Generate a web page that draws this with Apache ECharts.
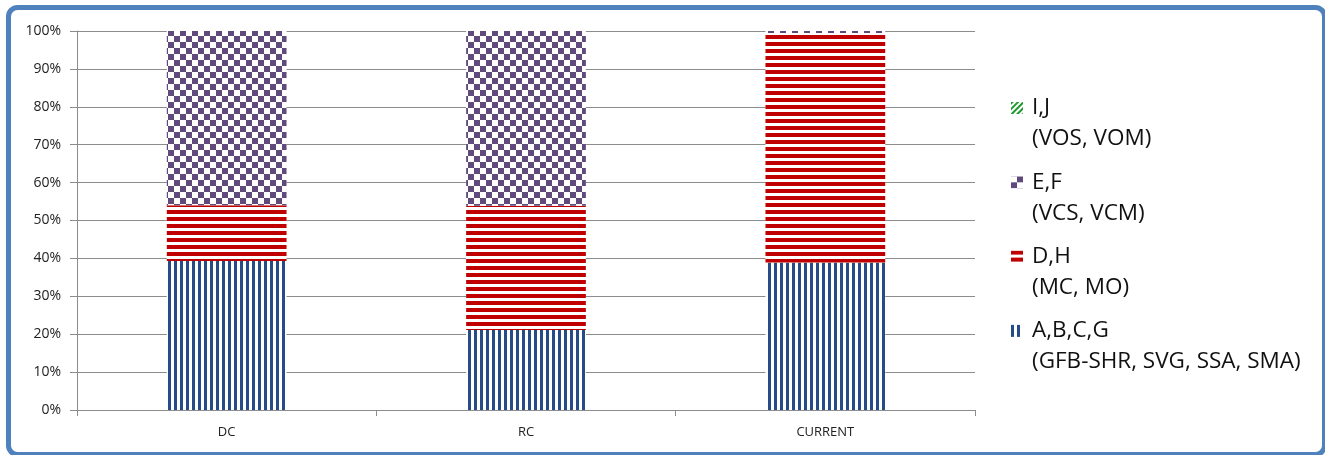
<!DOCTYPE html>
<html>
<head>
<meta charset="utf-8">
<title>Stacked share by category</title>
<script src="https://cdn.jsdelivr.net/npm/echarts@6/dist/echarts.min.js"></script>
<style>
  html, body { margin: 0; padding: 0; background: #ffffff; }
  #chart { width: 1325px; height: 455px; }
</style>
</head>
<body>
<div id="chart"></div>
<script>
// Categories along the x axis
const categories = ['DC', 'RC', 'CURRENT'];

// Percentage share of each group (stacked to 100%)
const abcgValues = [39.3, 21.1, 38.9];
const dhValues   = [14.7, 32.8, 60.6];
const efValues   = [46.0, 46.1, 0.5];
const ijValues   = [0, 0, 0];

// Legend names and their second-line descriptions
const seriesNames = ['A,B,C,G', 'D,H', 'E,F', 'I,J'];
const seriesNotes = ['(GFB-SHR, SVG, SSA, SMA)', '(MC, MO)', '(VCS, VCM)', '(VOS, VOM)'];

// Y axis ticks: 0% .. 100% every 10%
const yMin = 0, yMax = 100, yStep = 10;

const FONT = 'Open Sans';

// Fill patterns for each group
const patterns = {
  'A,B,C,G': { color: '#254c86', dashArrayX: [3, 3], dashArrayY: [1, 0] },          // vertical stripes
  'D,H':     { color: '#c00000', dashArrayX: [1, 0], dashArrayY: [4, 2.5] },        // horizontal stripes
  'E,F':     { color: '#604a7b', dashArrayX: [[6, 6], [0, 6, 6, 0]], dashArrayY: [6, 0] }, // checkerboard
  'I,J':     { color: '#1e9a2e', dashArrayX: [1, 0], dashArrayY: [2, 2], rotation: -Math.PI / 4 } // diagonal
};

function makeSeries(name, values) {
  const p = patterns[name];
  return {
    name: name,
    type: 'bar',
    stack: 'share',
    barWidth: '40%',
    data: values,
    itemStyle: {
      color: '#ffffff',
      decal: {
        symbol: 'rect',
        symbolSize: 1,
        color: p.color,
        backgroundColor: null,
        dashArrayX: p.dashArrayX,
        dashArrayY: p.dashArrayY,
        rotation: p.rotation || 0
      }
    },
    emphasis: { disabled: true }
  };
}

const chart = echarts.init(document.getElementById('chart'), null, { renderer: 'canvas' });

chart.setOption({
  animation: false,
  backgroundColor: '#ffffff',
  grid: { left: 77, right: 350, top: 31, bottom: 45, containLabel: false },
  legend: {
    data: ['I,J', 'E,F', 'D,H', 'A,B,C,G'],
    orient: 'vertical',
    left: 1011,
    top: 61.5,
    padding: 0,
    itemGap: -18.7,
    itemWidth: 12,
    itemHeight: 12,
    icon: 'rect',
    selectedMode: false,
    // leading blank line keeps the icon level with the group name
    formatter: function (name) {
      return '\n' + name + '\n' + seriesNotes[seriesNames.indexOf(name)];
    },
    textStyle: {
      fontFamily: FONT,
      fontSize: 22.5,
      lineHeight: 31,
      color: '#111111',
      padding: [0, 0, 0, 4]
    }
  },
  xAxis: {
    type: 'category',
    data: categories,
    boundaryGap: true,
    axisLine: { show: true, lineStyle: { color: '#8c8c8c', width: 1 } },
    axisTick: { show: true, length: 6, lineStyle: { color: '#8c8c8c' } },
    axisLabel: { fontFamily: FONT, fontSize: 13, color: '#222222', margin: 16 },
    splitLine: { show: false }
  },
  yAxis: {
    type: 'value',
    min: yMin,
    max: yMax,
    interval: yStep,
    axisLine: { show: true, lineStyle: { color: '#8c8c8c', width: 1 } },
    axisTick: { show: true, length: 7, lineStyle: { color: '#8c8c8c' } },
    axisLabel: { fontFamily: FONT, fontSize: 14, color: '#222222', margin: 16, formatter: '{value}%' },
    splitLine: { show: true, lineStyle: { color: '#8c8c8c', width: 1 } }
  },
  series: [
    makeSeries('A,B,C,G', abcgValues),
    makeSeries('D,H', dhValues),
    makeSeries('E,F', efValues),
    makeSeries('I,J', ijValues)
  ],
  graphic: [{
    type: 'rect',
    silent: true,
    z: 100,
    shape: { x: 8.5, y: 7.5, width: 1316, height: 447, r: 9 },
    style: { fill: null, stroke: '#4f81bd', lineWidth: 5 }
  }]
});
</script>
</body>
</html>
